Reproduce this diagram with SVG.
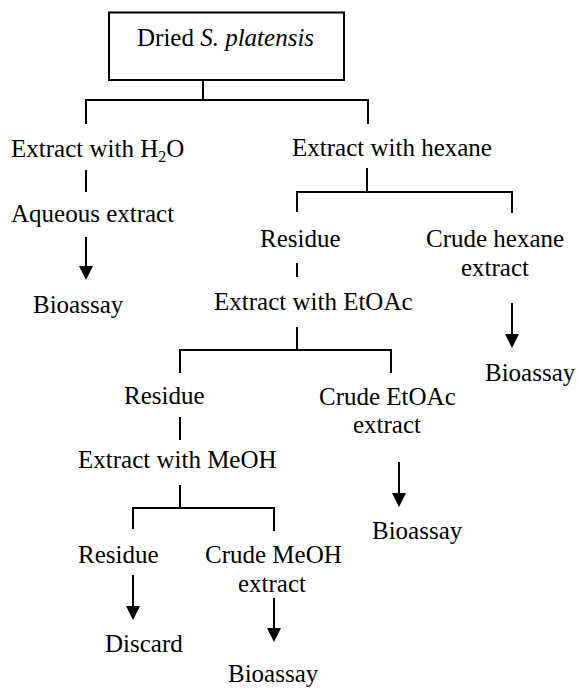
<svg xmlns="http://www.w3.org/2000/svg" width="579" height="689" viewBox="0 0 579 689">
<defs>
<style>
text{font-family:"Liberation Serif","Times New Roman",serif;font-size:25px;fill:#000}
.it{font-style:italic}
.c line,.box{stroke:#000;stroke-width:2;fill:none}
.c line.a{marker-end:url(#ah)}
</style>
<marker id="ah" markerUnits="userSpaceOnUse" markerWidth="14" markerHeight="14" refX="7" refY="7" orient="auto" viewBox="0 0 14 14">
<path d="M0,0 L14,7 L0,14 Z" fill="#000"/>
</marker>
</defs>
<rect width="579" height="689" fill="#fff"/>
<g class="c" id="connectors">
<line x1="203" y1="80" x2="203" y2="100"/>
<line x1="85" y1="100" x2="369" y2="100"/>
<line x1="86" y1="100" x2="86" y2="124"/>
<line x1="368" y1="100" x2="368" y2="124"/>
<line x1="86" y1="170" x2="86" y2="192"/>
<line class="a" x1="86" y1="237" x2="86" y2="273"/>
<line x1="367" y1="168" x2="367" y2="192"/>
<line x1="296" y1="192" x2="513" y2="192"/>
<line x1="297" y1="192" x2="297" y2="212"/>
<line x1="512" y1="192" x2="512" y2="213"/>
<line x1="297" y1="263" x2="297" y2="277"/>
<line class="a" x1="512" y1="303" x2="512" y2="341"/>
<line x1="297" y1="327" x2="297" y2="350"/>
<line x1="179" y1="350" x2="392" y2="350"/>
<line x1="180" y1="350" x2="180" y2="373"/>
<line x1="391" y1="350" x2="391" y2="373"/>
<line x1="180" y1="417" x2="180" y2="440"/>
<line class="a" x1="399" y1="462" x2="399" y2="500"/>
<line x1="180" y1="485" x2="180" y2="508"/>
<line x1="132" y1="508" x2="275" y2="508"/>
<line x1="133" y1="508" x2="133" y2="529"/>
<line x1="274" y1="508" x2="274" y2="531"/>
<line class="a" x1="133" y1="575" x2="133" y2="613"/>
<line class="a" x1="274" y1="598" x2="274" y2="635"/>
</g>
<g id="n-dried">
<rect class="box" x="109" y="12.5" width="235" height="67.5"/>
<text x="137" y="46">Dried <tspan class="it">S. platensis</tspan></text>
</g>
<g id="n-extract-h2o"><text x="11" y="157">Extract with H<tspan font-size="16" dy="5">2</tspan><tspan dy="-5">O</tspan></text></g>
<g id="n-aqueous"><text x="11" y="222">Aqueous extract</text></g>
<g id="n-bioassay1"><text x="33" y="313">Bioassay</text></g>
<g id="n-extract-hexane"><text x="292" y="156">Extract with hexane</text></g>
<g id="n-residue1"><text x="260" y="247">Residue</text></g>
<g id="n-crude-hexane"><text x="426" y="247">Crude hexane</text><text x="461" y="276">extract</text></g>
<g id="n-extract-etoac"><text x="214" y="310">Extract with EtOAc</text></g>
<g id="n-bioassay2"><text x="485" y="381">Bioassay</text></g>
<g id="n-residue2"><text x="124" y="404">Residue</text></g>
<g id="n-crude-etoac"><text x="319" y="405">Crude EtOAc</text><text x="353" y="433">extract</text></g>
<g id="n-extract-meoh"><text x="78" y="468">Extract with MeOH</text></g>
<g id="n-bioassay3"><text x="372" y="539">Bioassay</text></g>
<g id="n-residue3"><text x="78" y="563">Residue</text></g>
<g id="n-crude-meoh"><text x="205" y="563">Crude MeOH</text><text x="238" y="592">extract</text></g>
<g id="n-discard"><text x="105" y="652">Discard</text></g>
<g id="n-bioassay4"><text x="228" y="682">Bioassay</text></g>
</svg>
